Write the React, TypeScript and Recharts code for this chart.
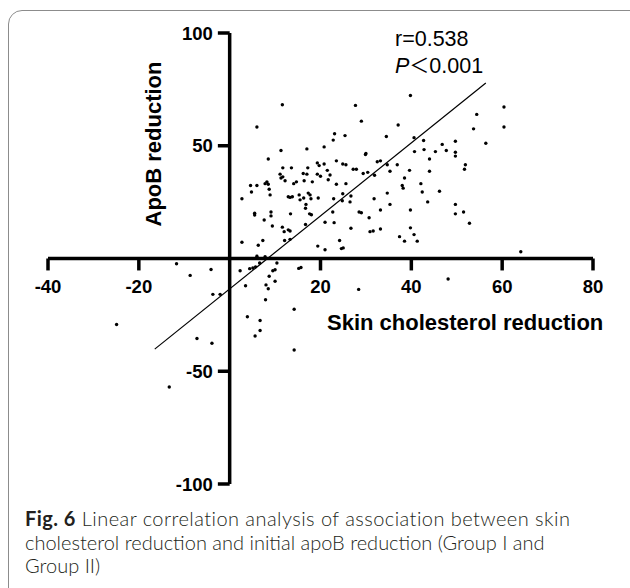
import { ScatterChart, Scatter, XAxis, YAxis, ReferenceLine } from 'recharts'

// Skin cholesterol reduction (x) and apoB reduction (y)
const skinReduction = [
  11.6, 6.0, 27.7, 29.0, 39.8, 60.4, 60.4, 54.4, 53.7, 56.4,
  37.1, 34.5, 23.1, 25.4, 22.8, 20.8, 17.0, 11.3, 8.5, 40.6,
  42.7, 42.8, 40.7, 45.3, 46.8, 47.7, 49.7, 49.7, 49.7, 44.0,
  44.0, 51.9, 51.7, 39.6, 38.5, 36.9, 34.7, 35.3, 32.5, 33.2,
  30.0, 29.9, 31.9, 30.4, 29.4, 27.2, 27.9, 25.6, 24.9, 23.5,
  20.8, 19.3, 19.7, 21.5, 22.1, 19.3, 20.0, 21.7, 23.5, 25.6,
  17.2, 16.2, 17.0, 18.2, 16.4, 14.7, 14.1, 13.6, 11.7, 11.1,
  11.7, 12.2, 11.3, 8.2, 7.8, 8.5, 8.7, 8.9, 6.0, 4.6,
  4.8, 2.7, 5.5, 5.5, 7.6, 9.1, 9.1, 9.4, 11.6, 12.0,
  12.9, 13.3, 12.1, 13.3, 13.4, 12.9, 13.3, 13.8, 15.3, 15.5,
  16.3, 16.8, 17.3, 17.7, 17.9, 16.7, 17.6, 18.0, 16.7, 19.5,
  21.0, 22.9, 22.7, 23.0, 24.9, 24.8, 26.7, 26.5, 26.7, 24.2,
  24.6, 25.0, 21.0, 19.4, 28.5, 29.0, 30.7, 31.8, 30.9, 31.6,
  33.2, 33.2, 34.7, 35.3, 37.4, 38.5, 39.8, 39.8, 40.6, 41.3,
  38.0, 38.2, 42.1, 42.4, 43.6, 46.2, 49.7, 49.7, 51.5, 52.8,
  64.1, 2.7, 6.3, 7.3, 6.0, 7.8, 2.3, 4.4, 5.1, 5.7,
  6.6, 10.4, 10.0, 9.5, 8.7, 8.5, 8.0, 10.0, 7.9, 3.5,
  15.2, 15.7, 14.2, 14.2, 3.9, 6.7, 6.7, 5.6, -4.1, -3.7,
  -2.1, -11.7, -8.7, -3.9, -7.2, -24.9, -13.3, 28.4, 48.1,
]

const apobReduction = [
  68.2, 58.3, 67.9, 60.9, 72.3, 67.2, 58.3, 63.9, 57.5, 51.1,
  59.2, 54.1, 55.3, 54.5, 52.5, 49.5, 48.6, 47.9, 44.1, 53.6,
  52.3, 48.3, 47.4, 47.4, 50.6, 47.9, 52.0, 47.1, 45.4, 44.1,
  38.7, 41.6, 39.6, 39.1, 35.7, 41.6, 41.6, 38.7, 42.9, 43.3,
  46.6, 46.1, 36.9, 38.2, 37.7, 39.6, 39.6, 41.6, 41.9, 43.3,
  41.9, 42.4, 41.2, 39.1, 37.0, 37.4, 36.5, 34.9, 32.9, 33.2,
  40.2, 37.7, 37.4, 34.0, 34.5, 34.0, 33.2, 40.2, 40.2, 37.4,
  36.2, 34.5, 35.7, 34.0, 33.2, 32.9, 30.7, 28.2, 32.4, 32.4,
  29.5, 26.5, 20.1, 19.3, 17.1, 20.6, 18.9, 14.4, 13.9, 11.9,
  12.7, 12.2, 8.0, 8.5, 19.8, 27.4, 27.1, 27.4, 28.2, 26.0,
  26.8, 24.0, 29.0, 28.2, 26.5, 22.3, 19.8, 19.4, 15.1, 26.8,
  16.1, 26.5, 20.6, 15.9, 28.7, 25.6, 27.7, 25.1, 13.4, 8.0,
  4.4, 4.7, 3.9, 5.5, 20.6, 20.3, 18.1, 26.5, 11.9, 12.2,
  13.1, 21.5, 29.0, 24.0, 9.7, 7.7, 21.5, 13.6, 10.6, 7.7,
  32.4, 31.2, 33.2, 29.5, 25.1, 29.8, 24.0, 19.8, 20.6, 15.6,
  3.0, 7.2, 5.9, 8.0, 1.0, 0.8, -5.4, -4.5, -4.2, -3.7,
  -2.0, -2.0, -5.0, -5.4, -7.9, -13.4, -11.7, -10.1, -18.3, -12.1,
  -4.4, -4.0, -22.5, -40.6, -25.8, -27.5, -31.9, -34.4, -4.9, -15.9,
  -15.9, -2.3, -7.5, -37.6, -35.5, -29.3, -57.0, -13.7, -9.1,
]

// fitted regression line end points
const fitX = [-16.5, 56.4]
const fitY = [-40.2, 77.8]

const xTicks = [-40, -20, 20, 40, 60, 80]
const yTicks = [100, 50, -50, -100]

const points = skinReduction.map((x, i) => ({ x, y: apobReduction[i] }))

const tickFont = { fill: '#000', fontSize: 18.5, fontWeight: 700, fontFamily: '"Liberation Sans", Arial, sans-serif' }

const Dot = (props: any) => <circle cx={props.cx} cy={props.cy} r={1.7} fill="#000" />

export default function App() {
  return (
    <div style={{ position: 'absolute', left: 0, top: 0, width: 630, height: 588, overflow: 'hidden', background: '#fff' }}>
      <div
        style={{
          position: 'absolute', left: 8, top: 10, width: 640, height: 592,
          border: '1.5px solid #8c8c8c', borderRadius: 14, boxSizing: 'border-box',
        }}
      />
      <div style={{ position: 'absolute', left: 0, top: 0 }}>
        <ScatterChart width={630} height={500} margin={{ top: 33, right: 37, bottom: 16, left: 48 }}>
          <XAxis type="number" dataKey="x" domain={[-40, 80]} hide />
          <YAxis type="number" dataKey="y" domain={[-100, 100]} hide />
          <ReferenceLine x={0} stroke="#000" strokeWidth={3.5} />
          <ReferenceLine y={0} stroke="#000" strokeWidth={3.5} />
          {xTicks.map((t) => (
            <ReferenceLine
              key={`xt${t}`}
              segment={[{ x: t, y: 0 }, { x: t, y: -5.3 }]}
              stroke="#000"
              strokeWidth={3.5}
              label={{ value: String(t), position: 'bottom', offset: 9, ...tickFont }}
            />
          ))}
          {yTicks.map((t) => (
            <ReferenceLine
              key={`yt${t}`}
              segment={[{ x: -2.6, y: t }, { x: 0, y: t }]}
              stroke="#000"
              strokeWidth={3.5}
              label={{ value: String(t), position: 'left', offset: 5, ...tickFont }}
            />
          ))}
          <ReferenceLine
            segment={[{ x: fitX[0], y: fitY[0] }, { x: fitX[1], y: fitY[1] }]}
            stroke="#000"
            strokeWidth={1.2}
          />
          <Scatter data={points} shape={Dot} isAnimationActive={false} />
        </ScatterChart>
      </div>
      <svg width={630} height={588} style={{ position: 'absolute', left: 0, top: 0, pointerEvents: 'none' }}>
        <g fontFamily='"Liberation Sans", Arial, sans-serif' fill="#000">
          <text transform="translate(160.5,144) rotate(-90)" textAnchor="middle" fontSize={22} fontWeight={700}>
            ApoB reduction
          </text>
          <text x={327} y={329.5} fontSize={22} fontWeight={700}>
            Skin cholesterol reduction
          </text>
          <text x={395} y={46} fontSize={21.5}>r=0.538</text>
          <text x={395} y={72.5} fontSize={21.5}>
            <tspan fontStyle="italic">P</tspan>
            <tspan fontFamily='"Noto Sans CJK JP", sans-serif' fontSize={20}>＜</tspan>
            0.001
          </text>
        </g>
        <g fontFamily="Lato, sans-serif" fontSize={20} fill="#231f20">
          <text x={25} y={526} letterSpacing={0.45}>
            <tspan fontWeight={700}>Fig. 6</tspan>
            <tspan fontWeight={300}> Linear correlation analysis of association between skin</tspan>
          </text>
          <text x={25} y={549.5} fontWeight={300}>
            cholesterol reduction and initial apoB reduction (Group I and
          </text>
          <text x={25} y={573} fontWeight={300}>
            Group II)
          </text>
        </g>
      </svg>
    </div>
  )
}
